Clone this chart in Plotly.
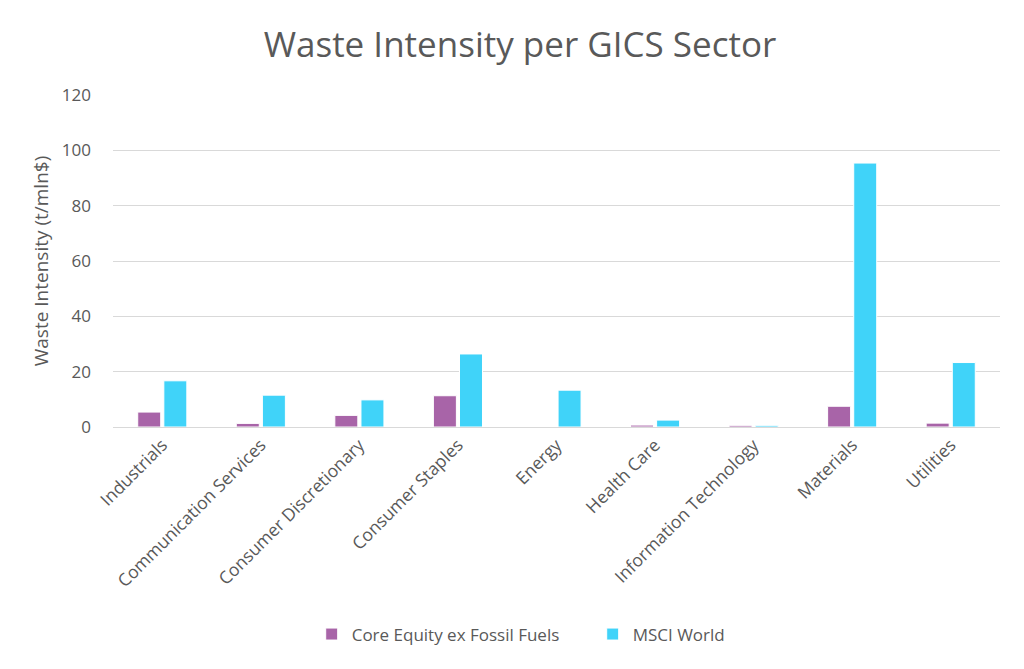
import plotly.graph_objects as go

categories = ["Industrials", "Communication Services", "Consumer Discretionary",
              "Consumer Staples", "Energy", "Health Care", "Information Technology",
              "Materials", "Utilities"]
core_equity = [5.4, 1.3, 4.2, 11.3, 0.0, 0.7, 0.6, 7.5, 1.4]
msci_world = [16.7, 11.5, 9.8, 26.4, 13.3, 2.5, 0.6, 95.4, 23.3]
y_ticks = [0, 20, 40, 60, 80, 100, 120]

font_family = "Open Sans, Liberation Sans, sans-serif"
gray = "#595959"

fig = go.Figure()
fig.add_trace(go.Bar(x=categories, y=core_equity, name="Core Equity ex Fossil Fuels",
                     marker=dict(color="#A864A8", line=dict(color="white", width=1))))
fig.add_trace(go.Bar(x=categories, y=msci_world, name="MSCI World",
                     marker=dict(color="#40D3F9", line=dict(color="white", width=1))))

fig.update_layout(
    width=1024, height=669,
    paper_bgcolor="white", plot_bgcolor="white",
    margin=dict(l=105, r=32, t=87, b=250),
    title=dict(text="Waste Intensity per GICS Sector", x=0.5, xanchor="center",
               y=0.945, yanchor="middle",
               font=dict(family=font_family, size=35, color=gray)),
    barmode="group", bargap=0.47, bargroupgap=0.12,
    font=dict(family=font_family, color=gray, size=16),
    xaxis=dict(tickangle=-45, tickfont=dict(size=17.5, color=gray),
               showline=True, linecolor="#D9D9D9", linewidth=1, ticks=""),
    yaxis=dict(range=[0, 120], tickvals=y_ticks, showgrid=True, gridcolor="#D9D9D9",
               gridwidth=1, zeroline=False, ticks="", ticklen=0, ticklabelstandoff=21,
               tickfont=dict(size=17, color=gray),
               title=dict(text="Waste Intensity (t/mln$)", font=dict(size=19, color=gray),
                          standoff=8)),
    legend=dict(orientation="h", x=0.224, xanchor="left", y=-0.625, yanchor="middle",
                font=dict(size=17, color=gray), itemwidth=30,
                entrywidth=236, entrywidthmode="pixels"),
)

fig.write_html("out.html")
